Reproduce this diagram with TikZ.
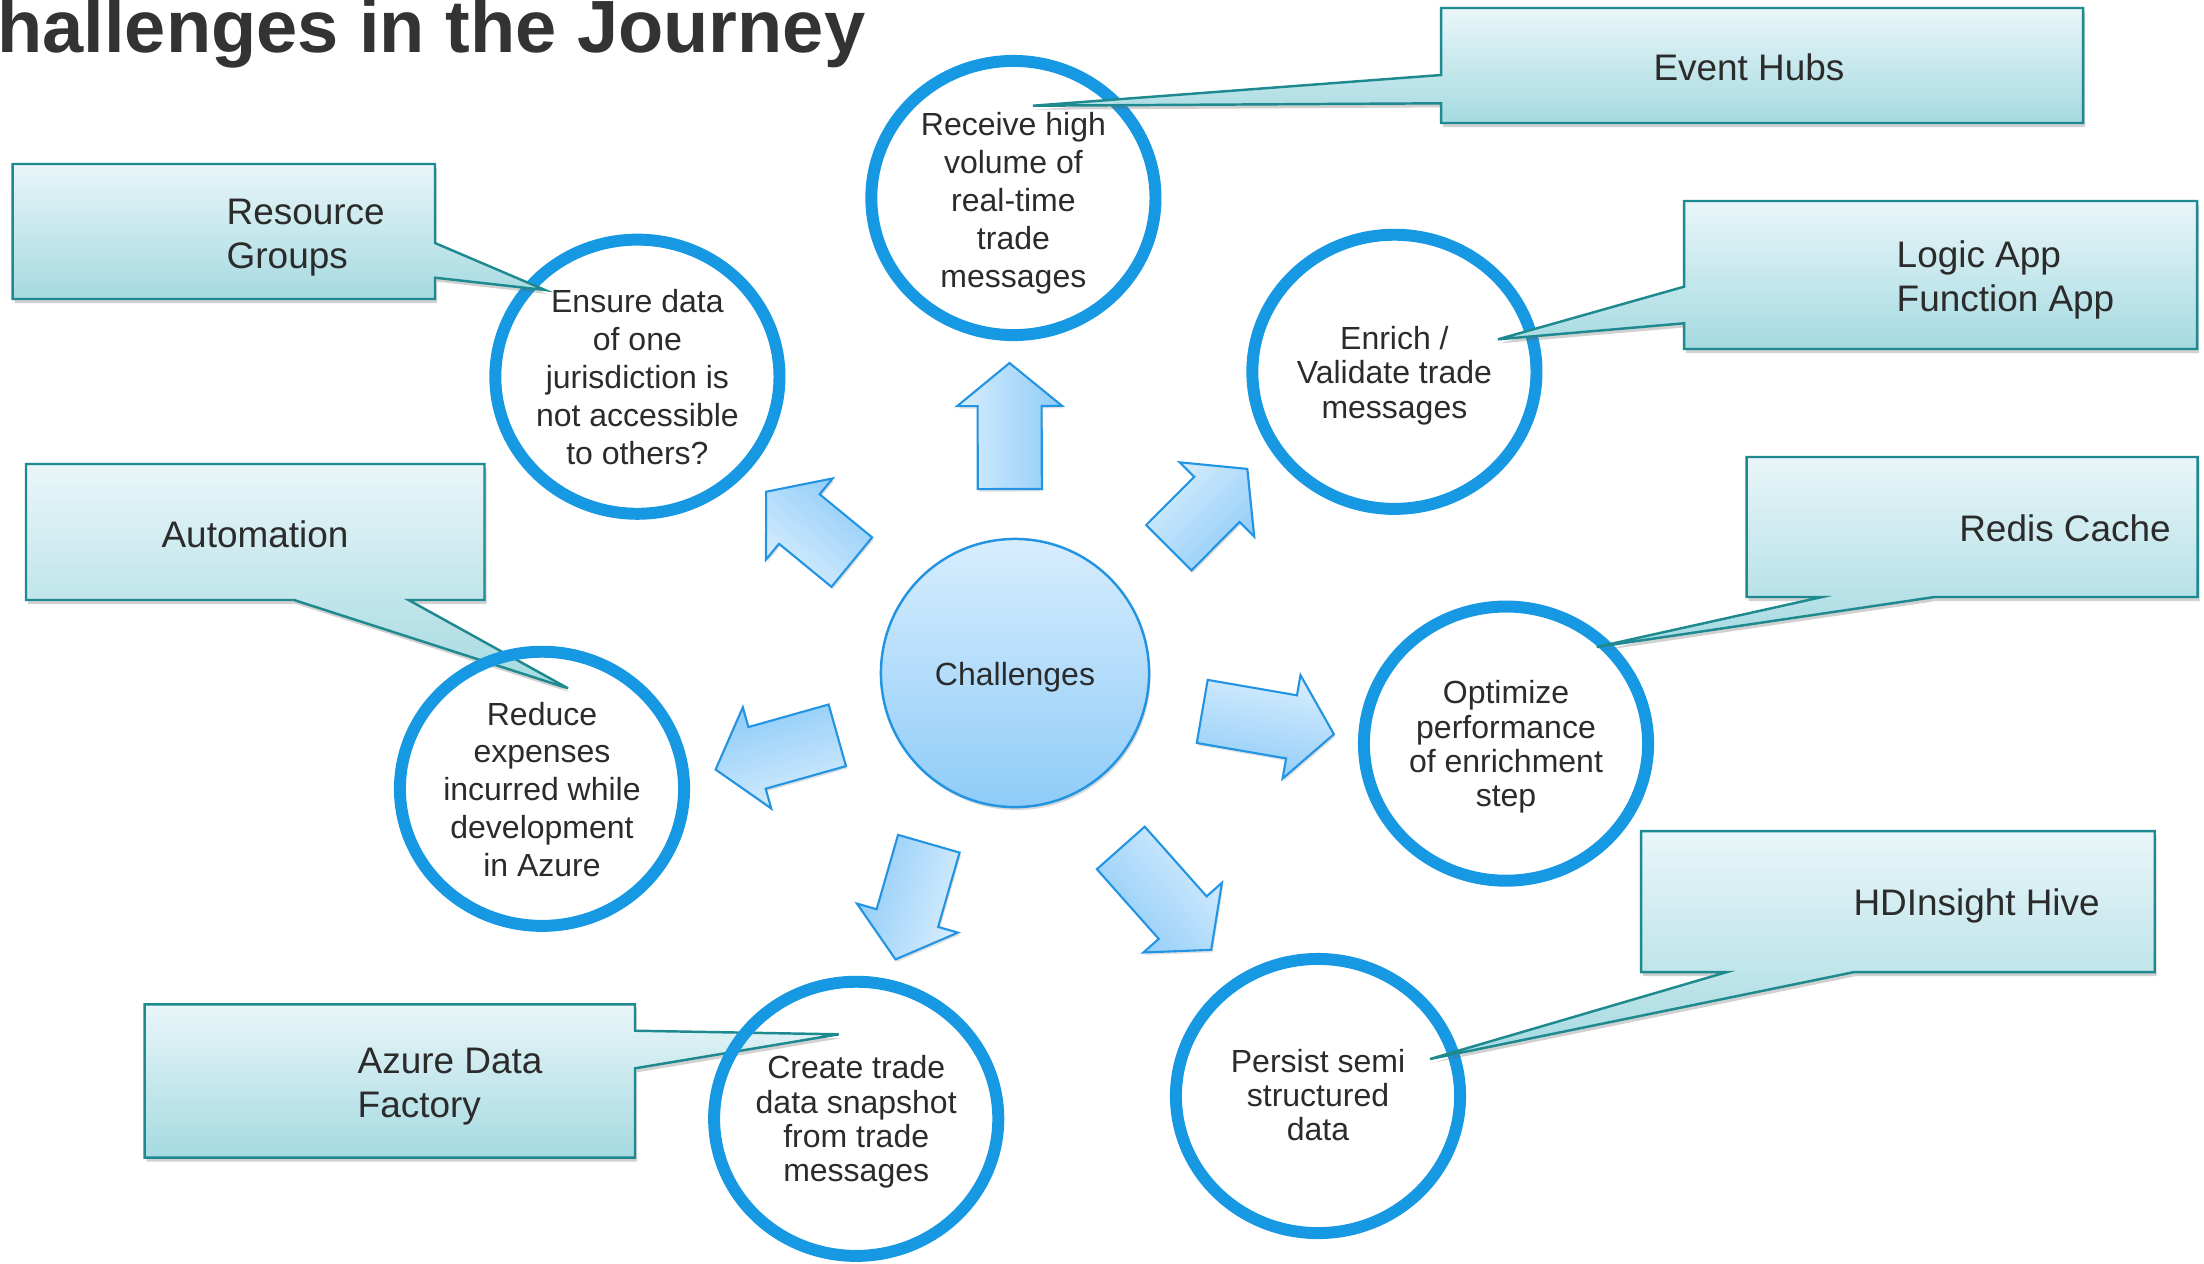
\documentclass[tikz,border=0pt]{standalone}
\usepackage{fontspec}
\setmainfont{Liberation Sans}
\usetikzlibrary{calc,shadows}
\definecolor{ring}{HTML}{1698E3}
\definecolor{txt}{HTML}{2B2B2B}
\definecolor{titlec}{HTML}{333333}
\definecolor{calloutline}{HTML}{1E8A90}
\definecolor{callouttop}{HTML}{E9F6F9}
\definecolor{calloutbot}{HTML}{A5DAE1}
\definecolor{arrlight}{HTML}{D7EDFD}
\definecolor{arrdark}{HTML}{8FCCF8}
\definecolor{arrline}{HTML}{2394E2}
\tikzset{
  ringc/.style={draw=ring, line width=3.4pt},
  ctext/.style={text=txt, align=center, inner sep=0pt, font=\fontsize{9.1}{10.8}\selectfont},
  ctextb/.style={text=txt, align=center, inner sep=0pt, font=\fontsize{9.1}{9.8}\selectfont},
  callout/.style={draw=calloutline, line width=0.7pt, top color=callouttop, bottom color=calloutbot, line join=miter,
    drop shadow={shadow xshift=0.02cm, shadow yshift=-0.04cm, opacity=0.3, fill=black!60}},
  ltext/.style={text=txt, inner sep=0pt, font=\fontsize{10.5}{12.5}\selectfont},
  blockarrow/.style={draw=arrline, line width=0.6pt, top color=arrlight, bottom color=arrdark, line join=miter,
    drop shadow={shadow xshift=0.015cm, shadow yshift=-0.025cm, opacity=0.2, fill=black!60}},
}
\newcommand\blockarr[4]{%
  \coordinate (#1-s) at #2;
  \coordinate (#1-t) at #3;
  \coordinate (#1-b) at ($(#1-t)!0.43cm!(#1-s)$);
  \path[blockarrow, shading angle=#4]
    ($(#1-s)!0.32cm!90:(#1-t)$) -- ($(#1-b)!0.32cm!90:(#1-t)$) -- ($(#1-b)!0.525cm!90:(#1-t)$)
    -- (#1-t) -- ($(#1-b)!0.525cm!-90:(#1-t)$) -- ($(#1-b)!0.32cm!-90:(#1-t)$)
    -- ($(#1-s)!0.32cm!-90:(#1-t)$) -- cycle;
}
\begin{document}
\begin{tikzpicture}[x=0.01cm, y=-0.01cm]
\useasboundingbox (0,0) rectangle (2204,1263);

% title
\node[anchor=base east, inner sep=0pt, text=titlec, font=\fontsize{21.05}{25}\selectfont\bfseries] (title) at (866,52) {Challenges in the Journey};

% block arrows
\blockarr{aU}{(1009.8,489)}{(1009.5,363)}{90}
\blockarr{aUL}{(851.8,562.1)}{(766.1,491.7)}{140.6}
\blockarr{aUR}{(1168.8,547.7)}{(1247.3,468.9)}{45.1}
\blockarr{aR}{(1202.2,711.4)}{(1333.9,734.2)}{-9.8}
\blockarr{aL}{(837.3,735.3)}{(715.6,769.5)}{195.7}
\blockarr{aLL}{(928.8,843.7)}{(895.5,959.4)}{253.9}
\blockarr{aLR}{(1120.8,847.9)}{(1211.2,949.8)}{-48.4}

% central circle
\node[circle, minimum size=2.68cm, inner sep=0pt, draw=arrline, line width=0.7pt, top color=arrlight, bottom color=arrdark,
  drop shadow={shadow xshift=0.015cm, shadow yshift=-0.03cm, opacity=0.25, fill=black!60}] (ch) at (1015,673) {};
\node[text=txt, inner sep=0pt, font=\fontsize{9.1}{10.8}\selectfont] (chl) at (1015,677) {Challenges};

% callouts drawn beneath rings
\coordinate (autip) at (568,688.3);
\path[callout] (26,464) -- (484.5,464) -- (484.5,600) -- (408.6,600) -- (autip) -- (294,600) -- (26,600) -- cycle;
\node[ltext] (au) at (255,534) {Automation};

\coordinate (adtip) at (838.7,1034.3);
\path[callout] (144.7,1004.3) -- (635,1004.3) -- (635,1030.7) -- (adtip) -- (635,1068.3) -- (635,1157.7) -- (144.7,1157.7) -- cycle;
\node[ltext, align=left, anchor=west] (ad) at (357,1087) {Azure Data\\Factory};

% challenge circles
\coordinate (c1) at (1013.4,198);
\coordinate (c2) at (1394.4,371.8);
\coordinate (c3) at (1506,743.6);
\coordinate (c4) at (1318,1096);
\coordinate (c5) at (856.2,1118.8);
\coordinate (c6) at (542,788.8);
\coordinate (c7) at (637.4,376.7);
\foreach \c in {c1,c2,c3,c4,c5,c6,c7}
  \draw[ringc] (\c) ellipse [x radius=1.42cm, y radius=1.37cm];

\node[ctext] (t1) at (1013.4,203) {Receive high\\volume of\\real-time\\trade\\messages};
\node[ctextb] (t2) at (1394.4,375.5) {Enrich /\\Validate trade\\messages};
\node[ctextb] (t3) at (1506,747) {Optimize\\performance\\of enrichment\\step};
\node[ctextb] (t4) at (1318,1095) {Persist semi\\structured\\data};
\node[ctextb] (t5) at (856.2,1122) {Create trade\\data snapshot\\from trade\\messages};
\node[ctext] (t6) at (542,789.5) {Reduce\\expenses\\incurred while\\development\\in Azure};
\node[ctext] (t7) at (637.4,377.5) {Ensure data\\of one\\jurisdiction is\\not accessible\\to others?};

% callouts drawn over rings
\coordinate (ehtip) at (1033,105.7);
\path[callout] (1441,8) -- (2083,8) -- (2083,123) -- (1441,123) -- (1441,103.3) -- (ehtip) -- (1441,75) -- cycle;
\node[ltext] (eh) at (1749,67.5) {Event Hubs};

\coordinate (latip) at (1498,339.3);
\path[callout] (1684,201) -- (2197,201) -- (2197,349) -- (1684,349) -- (1684,323.3) -- (latip) -- (1684,286.7) -- cycle;
\node[ltext, align=left, anchor=west] (la) at (1896,280) {Logic App\\Function App};

\coordinate (rgtip) at (545,290);
\path[callout] (12.6,164) -- (435,164) -- (435,243) -- (rgtip) -- (435,277.7) -- (435,299) -- (12.6,299) -- cycle;
\node[ltext, align=left, anchor=west] (rg) at (226,237.5) {Resource\\Groups};

\coordinate (rctip) at (1596.7,647);
\path[callout] (1746.5,457) -- (2197.5,457) -- (2197.5,597) -- (1934.5,597) -- (rctip) -- (1822,597) -- (1746.5,597) -- cycle;
\node[ltext] (rc) at (2065,528.6) {Redis Cache};

\coordinate (hdtip) at (1430,1059);
\path[callout] (1641,831) -- (2154.7,831) -- (2154.7,972) -- (1854.4,972) -- (hdtip) -- (1727,972) -- (1641,972) -- cycle;
\node[ltext] (hd) at (1976.6,906) {HDInsight Hive};
\end{tikzpicture}
\end{document}
